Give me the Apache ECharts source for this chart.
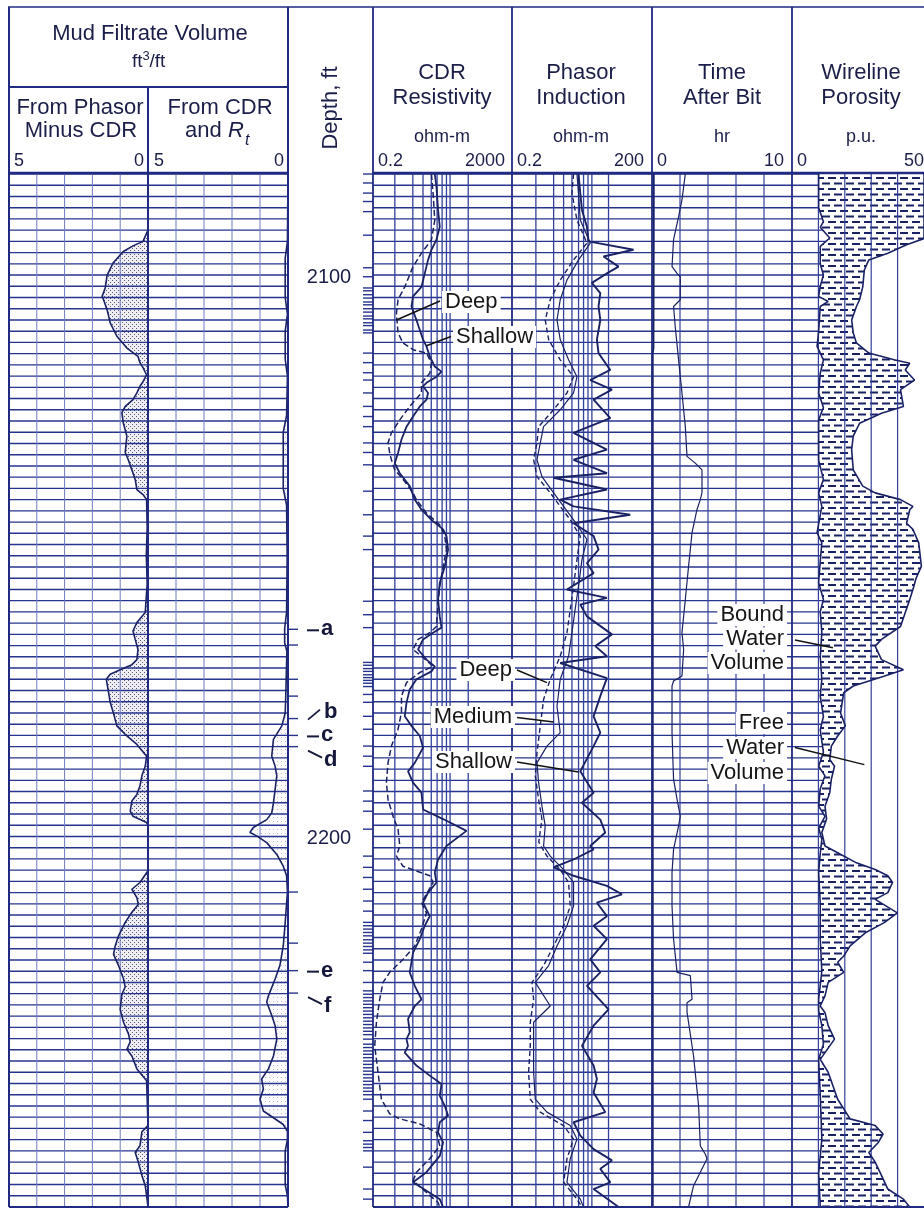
<!DOCTYPE html>
<html><head><meta charset="utf-8">
<script src="https://cdn.jsdelivr.net/npm/echarts@6.0.0/dist/echarts.min.js"></script>
<style>html,body{margin:0;padding:0;background:#fff;}#c{width:924px;height:1214px;}</style>
</head><body><div id="c"></div>
<script>
// ---------------- DATA (value, depth ft) ----------------
const DMIN = 2082, DMAX = 2266;
const depthLabels = [2100, 2200];

const phasorMinusCdr = [[0,2082],[0,2092.0],[0.18,2094.0],[0.54,2094.8],[0.89,2095.8],[1.25,2097.8],[1.47,2100.0],[1.54,2102.3],[1.65,2103.8],[1.6,2104.4],[1.47,2106.2],[1.36,2108.5],[1.12,2110.9],[0.76,2113.0],[0.36,2114.5],[0.29,2115.6],[0.18,2116.5],[0.05,2117.8],[0,2118.1],[0.18,2119.0],[0.29,2119.8],[0.4,2121.0],[0.54,2122.2],[0.82,2123.4],[0.94,2124.5],[0.89,2126.3],[0.76,2128.7],[0.82,2131.6],[0.71,2132.9],[0.58,2134.7],[0.46,2136.4],[0.4,2138.2],[0.18,2139.1],[0.05,2140.0],[0.03,2145],[0.06,2150],[0.03,2155],[0.1,2160.1],[0.4,2161.9],[0.54,2163.4],[0.46,2164.9],[0.36,2166.7],[0.4,2168.5],[0.58,2169.4],[1.0,2170.3],[1.36,2171.1],[1.5,2172.0],[1.42,2174.3],[1.36,2176.1],[1.25,2177.9],[1.12,2180.3],[0.76,2182.1],[0.4,2183.6],[0.05,2185.7],[0,2185.9],[0.1,2187.5],[0.22,2189.2],[0.29,2191.0],[0.4,2192.5],[0.58,2193.7],[0.64,2195.5],[0.54,2196.4],[0.05,2197.5],[0,2198.1],[0,2206.1],[0.29,2208.2],[0.58,2209.4],[0.4,2210.9],[0.35,2212.1],[0.58,2213.5],[0.82,2215.3],[1.06,2217.7],[1.18,2219.5],[1.24,2221.0],[1.06,2223.0],[0.88,2225.4],[0.82,2226.8],[0.94,2228.1],[1.0,2230.8],[0.88,2233.1],[0.7,2235.2],[0.64,2236.6],[0.76,2237.9],[0.58,2239.1],[0.4,2241.4],[0.05,2243.5],[0,2243.7],[0,2251.5],[0.22,2252.6],[0.29,2255.1],[0.46,2256.3],[0.35,2258.0],[0.22,2260.4],[0.1,2262.2],[0.05,2264.0],[0,2266]];

const cdrAndRt = [[0,2082],[0.02,2094],[0.1,2097],[0.1,2104],[0.02,2107],[0.1,2110],[0.1,2115],[0.02,2118],[0.05,2125],[0.17,2128],[0.17,2138],[0.05,2141],[0.03,2150],[0.05,2160],[0.12,2163],[0.12,2165.5],[0.04,2167],[0.08,2175],[0.1,2178],[0.22,2180.3],[0.52,2182.7],[0.58,2185.7],[0.46,2187.5],[0.4,2189.2],[0.46,2191.6],[0.52,2194.0],[0.58,2195.8],[0.76,2197.0],[1.24,2198.4],[1.36,2199.3],[1.12,2199.9],[0.76,2201.1],[0.4,2203.2],[0.17,2205.3],[0.05,2207.0],[0.02,2209.9],[0.1,2215.3],[0.17,2219.5],[0.29,2223.0],[0.46,2225.4],[0.7,2228.4],[0.76,2229.5],[0.58,2231.9],[0.46,2233.7],[0.4,2236.1],[0.52,2239.1],[0.7,2241.4],[0.94,2243.2],[0.88,2245.0],[1.0,2246.8],[0.88,2248.9],[0.52,2250.1],[0.17,2251.3],[0.02,2252.5],[0.02,2254],[0.1,2256],[0.1,2262],[0.02,2264],[0,2266]];

const cdrShallow = [[12.0,2082],[13.4,2084.3],[14.9,2088.4],[16.7,2091.4],[13.4,2093.7],[9.64,2095.5],[7.69,2097.3],[6.18,2099.7],[4.97,2102.1],[2.84,2103.8],[2.56,2105.6],[3.56,2108.0],[4.44,2109.8],[5.52,2111.5],[6.92,2112.7],[8.61,2114.5],[12.0,2116.3],[18.7,2117.2],[13.4,2118.1],[6.92,2119.2],[5.52,2119.8],[7.69,2121.0],[6.92,2122.2],[4.44,2123.4],[2.84,2125.2],[1.84,2127.0],[1.32,2129.3],[1.05,2131.7],[0.844,2133.5],[1.18,2135.3],[2.28,2137.6],[3.18,2140.0],[4.97,2141.8],[9.64,2143.6],[20.8,2145.3],[26,2146.5],[29,2148.9],[23.3,2151.9],[16.7,2154.8],[14.9,2157.8],[16.7,2160.8],[18.7,2162.8],[10.7,2163.7],[5.52,2164.9],[3.96,2166.7],[6.92,2168.5],[12.0,2169.7],[9.64,2170.6],[3.56,2172.0],[2.28,2173.8],[1.84,2176.2],[1.64,2178.6],[2.56,2180.3],[4.44,2182.1],[5.52,2184.2],[3.18,2186.9],[2.04,2188.4],[2.84,2190.4],[4.97,2192.2],[5.52,2195.2],[20.8,2196.9],[98,2199.0],[63,2199.9],[26,2201.7],[14.9,2204.1],[12.0,2206.4],[13.4,2208.2],[7.69,2210.0],[5.52,2211.8],[8.61,2214.2],[6.18,2215.9],[4.44,2218.3],[2.84,2220.7],[2.28,2224.2],[3.18,2226.6],[4.97,2229.0],[3.18,2230.2],[2.04,2232.5],[2.28,2234.9],[1.84,2236.1],[2.04,2237.3],[1.64,2238.5],[3.56,2240.8],[8.61,2242.6],[18.7,2244.1],[16.7,2246.2],[23.3,2248.0],[29,2249.7],[16.7,2250.9],[14.9,2252.7],[20.8,2254.5],[16.7,2256.9],[6.92,2259.8],[2.84,2261.6],[6.92,2263.1],[16.7,2264.6],[20.8,2266]];

const cdrDeep = [[9.64,2082],[10.7,2085.4],[12.0,2090.2],[9.64,2093.7],[4.97,2096.1],[2.84,2098.5],[1.64,2102.1],[1.05,2104.4],[0.944,2106.8],[1.05,2110.3],[1.46,2112.1],[2.84,2113.3],[6.92,2113.9],[9.64,2115.7],[8.61,2117.5],[4.97,2119.2],[4.97,2121.0],[2.28,2123.4],[1.18,2125.8],[0.678,2128.1],[0.541,2129.9],[0.606,2131.7],[0.678,2132.9],[0.844,2134.7],[1.46,2136.4],[2.84,2138.8],[3.56,2140.0],[6.92,2142.4],[16.7,2144.5],[23.3,2146.5],[26,2148.9],[20.8,2151.9],[16.7,2155.4],[14.9,2158.4],[13.4,2162.6],[8.61,2163.7],[3.96,2164.9],[2.84,2166.7],[4.97,2167.9],[10.7,2169.7],[4.44,2170.8],[1.84,2172.6],[1.32,2175.0],[1.32,2177.9],[1.05,2180.9],[0.678,2183.9],[0.541,2186.9],[0.486,2190.4],[0.541,2193.4],[0.754,2196.4],[1.05,2198.7],[1.18,2201.7],[0.944,2203.5],[1.46,2205.3],[8.61,2207.0],[10.7,2208.2],[4.97,2211.8],[6.92,2213.6],[4.97,2216.5],[3.18,2219.5],[1.46,2221.9],[0.606,2224.2],[0.388,2226.0],[0.312,2229.0],[0.251,2233.1],[0.224,2237.3],[0.279,2242.0],[0.349,2246.8],[0.606,2249.4],[1.18,2250.3],[4.44,2251.2],[13.4,2252.7],[16.7,2255.1],[8.61,2257.4],[3.56,2259.8],[2.84,2261.3],[6.92,2263.4],[14.9,2265.2],[16.7,2266]];

const phShallow = [[5.33,2082],[5.81,2085.4],[6.31,2088.4],[8.07,2091.4],[8.73,2094.0],[80.3,2095.5],[18.3,2096.7],[38.4,2098.5],[21.6,2099.7],[10.3,2101.4],[15.6,2103.2],[14.3,2105.6],[15.6,2108.0],[13.2,2111.5],[14.3,2113.9],[25.5,2116.9],[9.5,2118.7],[27.7,2120.4],[11.2,2122.2],[25.5,2125.5],[4.17,2128.1],[21.6,2131.1],[4.17,2132.9],[21.6,2135.3],[1.56,2136.1],[21.6,2138.2],[2.16,2140.0],[4.17,2141.2],[68.2,2142.7],[4.17,2144.2],[11.2,2146.5],[14.3,2148.9],[8.07,2151.3],[11.2,2153.1],[3.01,2156.0],[21.6,2157.5],[5.81,2158.7],[8.07,2160.8],[27.7,2164.0],[12.2,2166.1],[21.6,2167.9],[2.16,2169.1],[21.6,2171.8],[15.6,2175.0],[11.2,2178.6],[15.6,2181.5],[11.2,2183.9],[5.81,2188.4],[11.2,2192.2],[6.31,2194.0],[15.6,2197.0],[19.9,2199.3],[9.5,2201.7],[11.2,2202.3],[4.17,2204.1],[1.56,2205.5],[4.17,2207.0],[21.6,2208.8],[45.3,2210.3],[13.2,2211.8],[21.6,2214.2],[11.2,2215.9],[21.6,2218.3],[9.5,2221.9],[15.6,2224.2],[8.07,2226.6],[23.4,2230.8],[11.2,2233.7],[6.31,2237.3],[11.2,2240.8],[13.2,2243.2],[11.2,2245.6],[19.9,2249.1],[4.17,2250.9],[5.81,2253.3],[11.2,2255.7],[27.7,2257.7],[15.6,2259.2],[25.5,2261.6],[11.2,2262.8],[38.4,2266]];

const phDeep = [[4.17,2082],[3.85,2085.4],[4.93,2090.2],[8.07,2094.3],[4.17,2097.3],[2.16,2100.9],[1.32,2104.4],[1.03,2108.0],[1.22,2111.5],[2.16,2115.1],[4.17,2118.1],[3.01,2121.0],[1.56,2124.0],[0.743,2127.0],[0.686,2129.9],[0.581,2132.9],[0.686,2135.9],[1.32,2138.8],[2.16,2141.2],[3.54,2143.6],[5.81,2146.5],[4.93,2150.7],[4.17,2155.4],[3.54,2159.6],[3.01,2163.7],[2.16,2167.9],[1.32,2172.0],[0.95,2175.6],[0.807,2180.3],[0.686,2185.1],[0.631,2189.2],[0.743,2193.4],[0.877,2196.9],[0.75,2201.0],[1.12,2203.5],[2.16,2205.9],[3.26,2208.2],[3.54,2212.4],[2.55,2215.9],[1.56,2219.5],[0.95,2223.0],[0.536,2226.0],[0.581,2229.0],[0.493,2233.1],[0.493,2237.3],[0.453,2242.0],[0.493,2246.8],[0.807,2249.1],[2.55,2251.5],[4.17,2253.9],[3.01,2257.4],[2.55,2261.6],[4.93,2264.6],[6.31,2266]];

const phMedium = [[4.93,2082],[5.33,2085.4],[5.81,2090.2],[9.5,2094.3],[5.33,2097.3],[3.01,2100.9],[2.16,2104.4],[1.84,2108.0],[2.16,2111.5],[3.26,2115.1],[4.93,2118.1],[4.17,2121.0],[2.16,2124.0],[0.95,2127.0],[0.807,2129.9],[0.686,2132.9],[0.877,2135.9],[1.56,2138.8],[2.55,2141.2],[4.17,2143.6],[8.07,2147.1],[6.31,2150.7],[5.33,2155.4],[4.5,2159.6],[3.85,2163.7],[3.26,2167.9],[2.16,2172.0],[1.84,2176.8],[2.16,2181.5],[1.12,2183.9],[0.686,2186.9],[0.743,2190.4],[0.877,2194.6],[1.03,2198.1],[0.95,2201.7],[1.32,2203.5],[2.55,2205.9],[4.17,2208.2],[4.17,2212.4],[3.01,2215.9],[1.84,2219.5],[1.22,2223.0],[0.631,2226.0],[1.32,2230.2],[0.581,2233.1],[0.581,2237.3],[0.581,2242.0],[0.631,2246.8],[1.12,2249.1],[3.54,2251.5],[4.93,2253.9],[3.54,2257.4],[3.01,2261.6],[5.81,2264.6],[6.83,2266]];

const timeAfterBit = [[2.38,2082],[2.14,2086.6],[1.9,2089.6],[1.54,2093.7],[1.43,2098.5],[1.79,2099.7],[2.02,2100.3],[2.02,2104.4],[1.54,2105.6],[1.66,2109.2],[1.9,2115.1],[2.14,2121.0],[2.38,2127.0],[2.5,2132.3],[3.09,2133.5],[3.57,2134.7],[3.57,2138.8],[3.45,2140.0],[3.21,2141.8],[2.86,2145.9],[2.61,2151.9],[2.38,2157.8],[2.14,2163.7],[2.26,2166.7],[2.14,2171.4],[1.54,2172.3],[1.43,2173.2],[1.43,2181.5],[1.54,2189.8],[1.79,2193.4],[2.02,2196.4],[1.9,2198.1],[1.54,2202.3],[1.43,2206.4],[1.43,2212.4],[1.54,2218.3],[1.79,2224.2],[2.74,2224.8],[2.86,2229.0],[2.5,2229.6],[2.5,2231.3],[2.97,2239.1],[3.33,2248.0],[3.45,2255.1],[3.81,2256.6],[3.93,2257.4],[3.45,2259.8],[2.97,2262.2],[2.61,2266]];
const timeNearBit = [[0.12,2082],[0.12,2093],[0.1,2113],[0.05,2114],[0.05,2266]];

const poroInner = [[10.1,2082],[10.1,2088],[11.9,2090.5],[10.7,2091.5],[14.3,2093.4],[10.7,2094.9],[10.7,2098],[11.9,2100.0],[10.7,2102],[10.1,2103.8],[13.7,2104.7],[10.7,2105.6],[10.1,2110],[9.5,2112.7],[11.9,2115.1],[10.7,2117.5],[10.1,2121],[11.9,2123.6],[10.1,2125.8],[10.1,2133],[11.9,2136.4],[10.1,2138.8],[11.3,2141.2],[9.5,2145.9],[11.3,2147.7],[10.7,2151],[10.1,2154.8],[11.9,2157.8],[10.7,2160],[11.3,2163.7],[10.7,2168],[11.3,2172],[10.7,2175],[11.9,2178.6],[10.7,2181],[11.9,2185],[10.1,2187.5],[12.5,2189.2],[10.7,2191.5],[10.1,2194.6],[12.5,2196.4],[10.1,2198.5],[11.3,2200.5],[10.7,2203],[10.1,2206.4],[10.7,2212],[10.7,2218.3],[11.3,2224],[10.1,2229.0],[10.1,2231],[11.3,2233.7],[11.9,2237],[10.1,2239.7],[10.7,2246],[11.3,2253.9],[10.1,2260],[10.7,2266]];

const poroTotal = [[50,2082],[50,2093.5],[43.4,2094.6],[36.3,2096.1],[29.1,2097.3],[27.4,2099.1],[26.8,2102.1],[25.6,2104.4],[24.4,2105.6],[22.6,2108.0],[23.2,2110.3],[24.4,2112.1],[29.1,2113.9],[38.7,2115.1],[44.6,2115.7],[42.9,2116.9],[46.4,2118.7],[41.1,2120.4],[42.2,2123.4],[33.9,2124.6],[25.6,2126.4],[23.2,2128.7],[22.6,2131.1],[23.2,2134.7],[26.8,2137.6],[31.5,2138.8],[41.1,2140.0],[45.8,2141.2],[44.6,2141.8],[43.4,2144.2],[45.8,2145.3],[48,2147.7],[49,2151.9],[47,2154],[45.8,2156.0],[44.6,2157.8],[41.1,2162.6],[33.9,2164.9],[31.5,2166.1],[33.9,2168.5],[42.2,2170.3],[35.1,2171.4],[23.2,2173.2],[19.6,2174.4],[18.4,2178.0],[20.2,2180.3],[17.3,2182.1],[14.9,2183.9],[14.3,2186.3],[16.1,2187.5],[14.9,2189.8],[14.3,2192.2],[12.5,2194.6],[13.1,2196.9],[11.3,2199.3],[12.5,2201.7],[17.3,2202.9],[24.4,2204.7],[31.5,2205.9],[36.3,2207.0],[38.1,2208.2],[36.3,2210.0],[31.5,2211.2],[39.9,2213.6],[35.1,2215.3],[28.0,2217.1],[22.0,2219.5],[19.6,2221.3],[17.3,2222.4],[19.6,2224.2],[13.7,2226.0],[12.5,2228.4],[10.7,2230.2],[12.5,2231.4],[13.7,2233.7],[16.1,2236.1],[12.5,2238.5],[10.7,2239.7],[13.7,2242.0],[17.3,2246.8],[22.0,2250.3],[31.5,2251.5],[34.5,2253.0],[32.7,2254.5],[29.1,2256.3],[31.5,2258.0],[33.3,2259.8],[36.3,2262.8],[42.2,2264.6],[44.6,2266]];

const depthTicks = [2082.0,2083.6,2085.4,2086.9,2088.7,2092.9,2098.7,2100.3,2102.3,2102.8,2103.5,2104.1,2104.8,2105.3,2106.0,2106.6,2107.3,2107.8,2108.5,2109.0,2109.8,2110.3,2113.9,2115.6,2117.4,2118.7,2121.0,2123.4,2125.2,2127.0,2129.9,2131.6,2133.8,2138.5,2142.7,2146.5,2148.9,2158.1,2160.5,2162.8,2169.0,2169.5,2170.1,2170.6,2171.2,2171.7,2172.2,2172.7,2173.3,2174.7,2176.1,2178.6,2180.9,2183.9,2185.7,2187.5,2191.9,2193.7,2195.5,2198.7,2203.5,2205.5,2207.3,2209.4,2211.5,2213.3,2215.3,2215.9,2216.5,2217.1,2217.7,2218.4,2219.0,2219.6,2220.2,2220.8,2222.4,2223.9,2226.0,2227.5,2228.1,2228.7,2229.3,2229.9,2230.5,2231.1,2231.7,2232.3,2232.9,2233.5,2234.1,2234.7,2235.3,2236.1,2237.0,2237.6,2238.2,2238.8,2239.4,2240.0,2240.6,2241.2,2241.8,2242.4,2243.0,2243.6,2244.2,2244.8,2245.4,2246.0,2246.8,2248.9,2250.6,2252.7,2254.2,2254.8,2255.4,2256.0,2258.9,2262.8,2264.6];
const markerTicks = [2163.1,2165.9,2172.0,2175.0,2179.0,2182.0,2184.0,2209.9,2219.0,2223.9,2227.9];
const markerLetters = ['a','b','c','d','e','f'];
const markerDepths = [2163.1,2179.0,2182.0,2184.0,2223.9,2227.9];
const markerDirs = [0,-1,0,1,0,1];

// paper grid lines (vertical)
const mudGrid = [1,2,3,4];
const cdrGridLines = [0.85,2.8,5.5,9.5,14,19.5,26,33,110];
const phasorGridLines = [0.65,1.56,2.55,3.85,5.33,6.83,8.5,10.3,23.4];
const timeGrid = [2,4,6,8];
const poroGrid = [10,20,30,40];

// ---------------- LAYOUT / STYLE ----------------
const TOP = 174, H = 1033;
const GRIDC = '#27348f', VGRIDC = '#33409c', LIGHTV = '#6f7bc2', CURVE = '#1a2266', TXT = '#1b1e48', BORDER = '#1f2a80';
const FONT = '"Liberation Sans", Arial, sans-serif';

const tracks = [
  {left:9, width:139, x:{type:'value',min:0,max:5,inverse:true}, v:mudGrid, vc:LIGHTV, vw:1, h:true},
  {left:148, width:140, x:{type:'value',min:0,max:5,inverse:true}, v:mudGrid, vc:LIGHTV, vw:1, h:true},
  {left:288, width:85, x:{type:'value',min:0,max:1}, v:[], h:false},
  {left:373, width:139, x:{type:'log',min:0.2,max:2000,logBase:10}, v:cdrGridLines, vc:VGRIDC, vw:1.3, h:true},
  {left:512, width:140, x:{type:'log',min:0.2,max:200,logBase:10}, v:phasorGridLines, vc:VGRIDC, vw:1.3, h:true},
  {left:652, width:140, x:{type:'value',min:0,max:10}, v:timeGrid, vc:VGRIDC, vw:1.2, h:true},
  {left:792, width:140, x:{type:'value',min:0,max:50}, v:poroGrid, vc:VGRIDC, vw:1.2, h:true}
];

function pattern(w, h, draw) {
  const c = document.createElement('canvas'); c.width = w; c.height = h;
  const g = c.getContext('2d'); draw(g); return {image: c, repeat: 'repeat'};
}
const stippleDark = pattern(4, 4, g => { g.fillStyle = '#eeeef3'; g.fillRect(0,0,4,4); g.fillStyle = '#55587a'; g.fillRect(0,0,1,1); g.fillRect(2,2,1,1); });
const stippleLight = pattern(4, 4, g => { g.fillStyle = '#fbfbfd'; g.fillRect(0,0,4,4); g.fillStyle = '#b9bccf'; g.fillRect(1,1,1,1); });
const hatch = pattern(24, 11, g => { g.fillStyle = '#fff'; g.fillRect(0,0,24,11); g.fillStyle = CURVE;
  g.fillRect(0,1,8,2); g.fillRect(12,1,8,2); g.fillRect(6,6.5,8,2); g.fillRect(18,6.5,6,2); g.fillRect(0,6.5,2,2); });

const gridDepths = []; for (let d = DMIN; d <= DMAX; d += 2) gridDepths.push(d);

const series = [];
tracks.forEach((t, i) => {
  const xmin = t.x.min;
  if (t.h) series.push({type:'custom', xAxisIndex:i, yAxisIndex:i, z:2, silent:true, animation:false,
    data: gridDepths.map(d => [xmin, d]),
    renderItem: (p, api) => { const y = api.coord([api.value(0), api.value(1)])[1]; const cs = p.coordSys;
      return {type:'line', shape:{x1:cs.x, y1:y, x2:cs.x+cs.width, y2:y}, style:{stroke:GRIDC, lineWidth:1.4}}; }});
  if (t.v.length) series.push({type:'custom', xAxisIndex:i, yAxisIndex:i, z:4, silent:true, animation:false,
    data: t.v.map(v => [v, DMIN]),
    renderItem: (p, api) => { const x = api.coord([api.value(0), api.value(1)])[0]; const cs = p.coordSys;
      return {type:'line', shape:{x1:x, y1:cs.y, x2:x, y2:cs.y+cs.height}, style:{stroke:t.vc, lineWidth:t.vw}}; }});
});

function fillSeries(gi, pts, z, fill) {
  return {type:'custom', xAxisIndex:gi, yAxisIndex:gi, z, silent:true, animation:false, data:[pts[0]],
    renderItem: (p, api) => ({type:'polygon', shape:{points: pts.map(q => api.coord(q))}, style:{fill, stroke:null}})};
}
series.push(fillSeries(0, phasorMinusCdr.concat([[0,DMAX],[0,DMIN]]), 1, stippleDark));
series.push(fillSeries(1, cdrAndRt.concat([[0,DMAX],[0,DMIN]]), 1, stippleLight));
series.push(fillSeries(6, poroTotal.concat([[50,DMAX],[50,DMIN]]), 3, '#ffffff'));
series.push(fillSeries(6, poroInner.concat(poroTotal.slice().reverse()), 3, hatch));

function curve(gi, data, width, type) {
  return {type:'line', xAxisIndex:gi, yAxisIndex:gi, data, z:5, silent:true, animation:false,
    symbol:'none', showSymbol:false, smooth:false,
    lineStyle:{color:CURVE, width, type: type || 'solid'}};
}
series.push(curve(0, phasorMinusCdr, 1.6));
series.push(curve(1, cdrAndRt, 1.6));
series.push(curve(3, cdrDeep, 1.5, [6,3]));
series.push(curve(3, cdrShallow, 1.8));
series.push(curve(4, phDeep, 1.4, [5,3]));
series.push(curve(4, phMedium, 1.2));
series.push(curve(4, phShallow, 1.9));
series.push(curve(5, timeAfterBit, 1.2));
series.push(curve(5, timeNearBit, 2));
series.push(curve(6, poroInner, 1.6));
series.push(curve(6, poroTotal, 1.6));

// depth column ticks
series.push({type:'custom', xAxisIndex:2, yAxisIndex:2, z:5, silent:true, animation:false,
  data: depthTicks.map(d => [0, d]),
  renderItem: (p, api) => { const y = api.coord([0, api.value(1)])[1]; const cs = p.coordSys;
    return {type:'line', shape:{x1:cs.x+cs.width-10, y1:y, x2:cs.x+cs.width, y2:y}, style:{stroke:GRIDC, lineWidth:1.4}}; }});
series.push({type:'custom', xAxisIndex:2, yAxisIndex:2, z:5, silent:true, animation:false,
  data: markerTicks.map(d => [0, d]),
  renderItem: (p, api) => { const y = api.coord([0, api.value(1)])[1]; const cs = p.coordSys;
    return {type:'line', shape:{x1:cs.x, y1:y, x2:cs.x+10, y2:y}, style:{stroke:GRIDC, lineWidth:1.4}}; }});

const chart = echarts.init(document.getElementById('c'), null, {renderer:'canvas', width:924, height:1214});
chart.setOption({
  animation:false, backgroundColor:'#fff',
  grid: tracks.map(t => ({left:t.left, top:TOP, width:t.width, height:H, show:false})),
  xAxis: tracks.map((t, i) => Object.assign({gridIndex:i, show:false, splitLine:{show:false}}, t.x)),
  yAxis: tracks.map((t, i) => ({gridIndex:i, type:'value', min:DMIN, max:DMAX, inverse:true, show:false, splitLine:{show:false}})),
  series
});

// ---------------- GRAPHICS (frame, header text, annotations) ----------------
const G = [];
const line = (x1, y1, x2, y2, w, c, z) => G.push({type:'line', z: z || 10, silent:true, shape:{x1,y1,x2,y2}, style:{stroke: c || BORDER, lineWidth: w || 1.5}});
const text = (s, x, y, size, align, opt) => G.push(Object.assign({type:'text', z:12, silent:true,
  style: Object.assign({text:s, x, y, font: size + 'px ' + FONT, fill:TXT, textAlign: align || 'center', textVerticalAlign:'middle'}, (opt && opt.style) || {})}, (opt && opt.el) || {}));

const BOT = 1207;
line(8, 7, 924, 7, 1.6);
[9, 288, 373, 512, 652, 792].forEach(x => line(x, 7, x, BOT, x === 9 || x === 288 ? 2 : 1.8));
line(148, 87, 148, BOT, 2);
line(9, 87, 288, 87, 1.8);
line(9, 173, 288, 173, 2.6);
line(373, 173, 924, 173, 2.6);
line(9, BOT, 288, BOT, 2);
line(373, BOT, 924, BOT, 2);

text('Mud Filtrate Volume', 150, 34, 22);
text('ft', 132, 62, 19, 'left');
text('3', 142.5, 56, 13, 'left');
text('/ft', 149.5, 62, 19, 'left');
text('From Phasor', 80, 108, 22);
text('Minus CDR', 81, 131, 22);
text('From CDR', 220, 108, 22);
text('and ', 185, 131, 22, 'left');
text('R', 228, 131, 22, 'left', {style:{font:'italic 22px ' + FONT}});
text('t', 245, 141, 16, 'left', {style:{font:'italic 16px ' + FONT}});
text('5', 14, 161, 18, 'left'); text('0', 144, 161, 18, 'right');
text('5', 154, 161, 18, 'left'); text('0', 284, 161, 18, 'right');
G.push({type:'text', z:12, silent:true, x:331, y:108, rotation:Math.PI/2,
  style:{text:'Depth, ft', x:0, y:0, font:'22px ' + FONT, fill:TXT, textAlign:'center', textVerticalAlign:'middle'}});
text('CDR', 442, 73, 22); text('Resistivity', 442, 98, 22); text('ohm-m', 442, 137, 18);
text('0.2', 378, 161, 18, 'left'); text('2000', 505, 161, 18, 'right');
text('Phasor', 581, 73, 22); text('Induction', 581, 98, 22); text('ohm-m', 581, 137, 18);
text('0.2', 517, 161, 18, 'left'); text('200', 644, 161, 18, 'right');
text('Time', 722, 73, 22); text('After Bit', 722, 98, 22); text('hr', 722, 137, 18);
text('0', 657, 161, 18, 'left'); text('10', 784, 161, 18, 'right');
text('Wireline', 861, 73, 22); text('Porosity', 861, 98, 22); text('p.u.', 861, 137, 18);
text('0', 797, 161, 18, 'left'); text('50', 924, 161, 18, 'right');

const px = (gi, v, d) => chart.convertToPixel({gridIndex: gi}, [v, d]);

// depth labels
depthLabels.forEach(d => { const y = px(2, 0, d)[1]; text(String(d), 329, y + 2, 20); });

// markers a-f
markerLetters.forEach((L, k) => {
  const y = px(2, 0, markerDepths[k])[1]; const dir = markerDirs[k];
  if (dir === 0) { line(307, y + 1, 319, y + 1, 2, '#15183a', 13); text(L, 321, y, 22, 'left', {style:{font:'bold 22px ' + FONT, fill:'#15183a'}}); }
  else if (dir < 0) { line(308, y + 1, 320, y - 9, 1.8, '#15183a', 13); text(L, 324, y - 7, 22, 'left', {style:{font:'bold 22px ' + FONT, fill:'#15183a'}}); }
  else { line(308, y + 4, 322, y + 11, 1.8, '#15183a', 13); text(L, 324, y + 13, 22, 'left', {style:{font:'bold 22px ' + FONT, fill:'#15183a'}}); }
});

// callouts
const callouts = [
  {words:['Deep'], x:442, ys:[302], align:'left', from:[440,301], to:[3, 0.944, 2108.0]},
  {words:['Shallow'], x:453, ys:[337], align:'left', from:[451,336.5], to:[3, 6.92, 2112.6]},
  {words:['Deep'], x:515, ys:[670], align:'right', from:[517,670], to:[4, 1.12, 2172.6]},
  {words:['Medium'], x:515, ys:[717], align:'right', from:[517,717.5], to:[4, 1.56, 2179.6]},
  {words:['Shallow'], x:515, ys:[762], align:'right', from:[517,762], to:[4, 5.33, 2188.5]},
  {words:['Bound','Water','Volume'], x:787, ys:[615,638.5,663], align:'right', from:[795,640], to:[6, 15.5, 2166.4]},
  {words:['Free','Water','Volume'], x:787, ys:[723,748,773], align:'right', from:[795,747.5], to:[6, 27.4, 2187.2]}
];
callouts.forEach(c => {
  const e = px(c.to[0], c.to[1], c.to[2]);
  G.push({type:'line', z:29, silent:true, shape:{x1:c.from[0], y1:c.from[1], x2:e[0], y2:e[1]}, style:{stroke:'#111', lineWidth:1.5}});
  c.words.forEach((w, k) => G.push({type:'text', z:30, silent:true,
    style:{text:w, x:c.x, y:c.ys[k], font:'22px ' + FONT, fill:'#161616', textAlign:c.align, textVerticalAlign:'middle',
      backgroundColor:'#fff', padding:[0,3,0,3]}}));
});

chart.setOption({graphic: {elements: G}});
</script></body></html>
